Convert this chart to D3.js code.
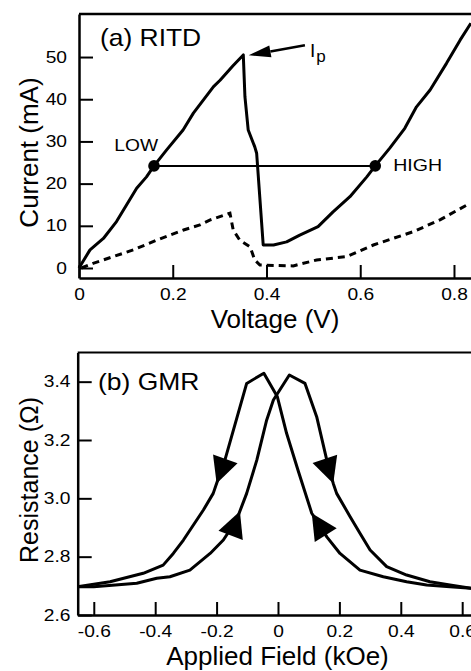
<!DOCTYPE html>
<html>
<head>
<meta charset="utf-8">
<script src="https://cdn.jsdelivr.net/npm/d3@7"></script>
<style>
  body { margin: 0; background: #fff; }
  svg { display: block; }
</style>
</head>
<body>
<svg id="chart"></svg>
<script>
// (a) RITD data - current vs voltage
var rtdV = [0, 0.0235, 0.052, 0.08, 0.123, 0.144, 0.16, 0.187, 0.222, 0.244, 0.287, 0.301, 0.329, 0.3505,
            0.354, 0.361, 0.375, 0.379, 0.393, 0.415, 0.443, 0.471, 0.51, 0.542, 0.578, 0.614, 0.632,
            0.663, 0.695, 0.72, 0.749, 0.784, 0.813, 0.836];
var rtdI = [0, 4.3, 7.0, 11.0, 18.9, 21.6, 24.2, 28.0, 32.7, 36.7, 43.0, 44.5, 48.0, 50.5,
            40.6, 32.7, 28.7, 27.2, 5.45, 5.45, 6.2, 7.8, 9.8, 13.3, 16.9, 21.6, 24.2,
            28.4, 33.1, 38.2, 42.2, 48.5, 54.0, 58.0];
var rtdDashV = [0.005, 0.03, 0.116, 0.166, 0.194, 0.223, 0.258, 0.28, 0.322, 0.329, 0.343, 0.365,
                0.375, 0.386, 0.457, 0.507, 0.571, 0.628, 0.713, 0.77, 0.827];
var rtdDashI = [0, 1.1, 4.3, 6.6, 7.8, 9.0, 10.2, 11.4, 13.0, 9.0, 6.6, 5.0,
                1.9, 0.7, 0.5, 1.9, 2.7, 5.45, 8.6, 11.4, 14.9];
var stateV = [0.16, 0.632];
var stateI = [24.2, 24.2];
var stateLabels = ["LOW", "HIGH"];
var peakArrowV = [0.362, 0.482];   // tip, tail
var peakArrowI = [50.4, 52.8];

var vTicks = [0, 0.2, 0.4, 0.6, 0.8];
var iTicks = [0, 10, 20, 30, 40, 50];

// (b) GMR data - resistance vs field, two sweep directions
var gmrFwdH = [-0.653, -0.60, -0.46, -0.395, -0.352, -0.287, -0.221, -0.178, -0.135, -0.102, -0.069,
               -0.037, -0.015, 0.037, 0.088, 0.126, 0.159, 0.180, 0.191, 0.235, 0.267, 0.3, 0.354,
               0.419, 0.495, 0.56, 0.629];
var gmrFwdR = [2.697, 2.697, 2.709, 2.726, 2.731, 2.754, 2.811, 2.857, 2.926, 3.017, 3.131,
               3.268, 3.337, 3.423, 3.394, 3.28, 3.131, 3.051, 3.017, 2.937, 2.88, 2.823, 2.766,
               2.737, 2.714, 2.703, 2.692];
var gmrRevH = [-0.653, -0.547, -0.439, -0.374, -0.341, -0.308, -0.243, -0.211, -0.2, -0.173, -0.102,
               -0.046, -0.002, 0.028, 0.065, 0.11, 0.159, 0.202, 0.267, 0.343, 0.419, 0.484, 0.56, 0.629];
var gmrRevR = [2.697, 2.714, 2.743, 2.771, 2.811, 2.857, 2.96, 3.017, 3.051, 3.131, 3.394,
               3.429, 3.348, 3.223, 3.097, 2.949, 2.868, 2.811, 2.754, 2.731, 2.714, 2.703, 2.697, 2.692];
// sweep direction arrows (tip position on a curve, direction along the array)
var arrowH = [-0.2, 0.18, -0.124, 0.11];
var arrowR = [3.051, 3.051, 2.956, 2.949];
var arrowCurve = ["rev", "fwd", "fwd", "rev"];
var arrowDir = [-1, 1, 1, -1];

var hTicks = [-0.6, -0.4, -0.2, 0, 0.2, 0.4, 0.6];
var rTicks = [2.6, 2.8, 3.0, 3.2, 3.4];

var FONT = "'Liberation Sans', Arial, Helvetica, sans-serif";
var svgWidth = 471, svgHeight = 671;

var svg = d3.select("#chart")
    .attr("width", svgWidth)
    .attr("height", svgHeight);

svg.append("rect")
    .attr("width", svgWidth)
    .attr("height", svgHeight)
    .attr("fill", "#fff");

function zip(xs, ys) {
    return xs.map(function(x, i) { return [x, ys[i]]; });
}

function fmtTick(d) {
    if (d === 0) return "0";
    return d3.format(".1f")(d).replace("\u2212", "-");
}

function styleAxis(g, fontSize, sx) {
    g.attr("font-family", FONT).attr("font-size", fontSize);
    g.select(".domain").attr("stroke", "#000").attr("stroke-width", 2.5);
    g.selectAll(".tick line").attr("stroke", "#000").attr("stroke-width", 2);
    g.selectAll(".tick text").attr("fill", "#000")
        .attr("transform", "scale(" + sx + ",1)");
}

// ---------- (a) RITD ----------
var xV = d3.scaleLinear().domain([0, 0.8363]).range([79, 471]);
var yI = d3.scaleLinear().domain([-2.37, 60.2]).range([278, 14]);

svg.append("line")   // top frame
    .attr("x1", 79).attr("x2", 471)
    .attr("y1", 14).attr("y2", 14)
    .attr("stroke", "#000").attr("stroke-width", 2.5);

svg.append("g")
    .attr("transform", "translate(0,278)")
    .call(d3.axisBottom(xV).tickValues(vTicks).tickSizeInner(-13).tickSizeOuter(0)
        .tickPadding(11).tickFormat(fmtTick))
    .call(styleAxis, 16, 1.2);

svg.append("g")
    .attr("transform", "translate(79,0)")
    .call(d3.axisLeft(yI).tickValues(iTicks).tickSizeInner(-14).tickSizeOuter(0)
        .tickPadding(10).tickFormat(d3.format("d")))
    .call(styleAxis, 16, 1.2);

var lineA = d3.line()
    .x(function(d) { return xV(d[0]); })
    .y(function(d) { return yI(d[1]); });

svg.append("path")
    .datum(zip(rtdDashV, rtdDashI))
    .attr("fill", "none")
    .attr("stroke", "#000")
    .attr("stroke-width", 3)
    .attr("stroke-dasharray", "7,5")
    .attr("d", lineA);

svg.append("path")
    .datum(zip(rtdV, rtdI))
    .attr("fill", "none")
    .attr("stroke", "#000")
    .attr("stroke-width", 3)
    .attr("stroke-linejoin", "round")
    .attr("d", lineA);

// LOW-HIGH load line
svg.append("line")
    .attr("x1", xV(stateV[0])).attr("x2", xV(stateV[1]))
    .attr("y1", yI(stateI[0])).attr("y2", yI(stateI[1]))
    .attr("stroke", "#000").attr("stroke-width", 2);

svg.selectAll(".state")
    .data(stateV)
    .enter()
    .append("circle")
    .attr("cx", function(d) { return xV(d); })
    .attr("cy", function(d, i) { return yI(stateI[i]); })
    .attr("r", 5.8)
    .attr("fill", "#000");

svg.append("text")
    .attr("transform", "translate(" + (xV(stateV[0]) + 4) + "," + (yI(stateI[0]) - 15) + ") scale(1.2,1)")
    .attr("text-anchor", "end")
    .attr("font-family", FONT).attr("font-size", 16)
    .text(stateLabels[0]);

svg.append("text")
    .attr("transform", "translate(" + (xV(stateV[1]) + 18) + "," + (yI(stateI[1]) + 5.5) + ") scale(1.15,1)")
    .attr("font-family", FONT).attr("font-size", 17)
    .text(stateLabels[1]);

// peak current arrow
var tipX = xV(peakArrowV[0]), tipY = yI(peakArrowI[0]);
var tailX = xV(peakArrowV[1]), tailY = yI(peakArrowI[1]);
var ang = Math.atan2(tailY - tipY, tailX - tipX);
var headLen = 22, headW = 6;
var bx = tipX + Math.cos(ang) * headLen, by = tipY + Math.sin(ang) * headLen;
svg.append("line")
    .attr("x1", bx).attr("y1", by)
    .attr("x2", tailX).attr("y2", tailY)
    .attr("stroke", "#000").attr("stroke-width", 2.5);
svg.append("path")
    .attr("d", "M" + tipX + "," + tipY +
        "L" + (bx - Math.sin(ang) * headW) + "," + (by + Math.cos(ang) * headW) +
        "L" + (bx + Math.sin(ang) * headW) + "," + (by - Math.cos(ang) * headW) + "Z")
    .attr("fill", "#000");

var ip = svg.append("text")
    .attr("x", tailX + 5).attr("y", tailY + 12)
    .attr("font-family", FONT).attr("font-size", 19);
ip.append("tspan").text("I");
ip.append("tspan").attr("dy", 5).attr("dx", 1).attr("font-size", 17).text("p");

svg.append("text")
    .attr("transform", "translate(100,46) scale(1.1,1)")
    .attr("font-family", FONT).attr("font-size", 24)
    .text("(a) RITD");

svg.append("text")
    .attr("x", 275).attr("y", 328)
    .attr("text-anchor", "middle")
    .attr("font-family", FONT).attr("font-size", 26)
    .text("Voltage (V)");

svg.append("text")
    .attr("transform", "translate(38,152.5) rotate(-90)")
    .attr("text-anchor", "middle")
    .attr("font-family", FONT).attr("font-size", 26)
    .text("Current (mA)");

// ---------- (b) GMR ----------
var xH = d3.scaleLinear().domain([-0.6524, 0.6287]).range([77.7, 471]);
var yR = d3.scaleLinear().domain([2.6, 3.5]).range([615, 352.5]);

svg.append("line")   // top frame
    .attr("x1", 77.7).attr("x2", 471)
    .attr("y1", 352.5).attr("y2", 352.5)
    .attr("stroke", "#000").attr("stroke-width", 2);

svg.append("g")
    .attr("transform", "translate(0,615)")
    .call(d3.axisBottom(xH).tickValues(hTicks).tickSizeInner(-13).tickSizeOuter(0)
        .tickPadding(10.6).tickFormat(fmtTick))
    .call(styleAxis, 16, 1.2);

svg.append("g")
    .attr("transform", "translate(77.7,0)")
    .call(d3.axisLeft(yR).tickValues(rTicks).tickSizeInner(-14).tickSizeOuter(0)
        .tickPadding(6).tickFormat(d3.format(".1f")))
    .call(styleAxis, 16, 1.2);

var lineB = d3.line()
    .x(function(d) { return xH(d[0]); })
    .y(function(d) { return yR(d[1]); });

var curves = { fwd: zip(gmrFwdH, gmrFwdR), rev: zip(gmrRevH, gmrRevR) };

svg.selectAll(".gmr")
    .data([curves.fwd, curves.rev])
    .enter()
    .append("path")
    .attr("fill", "none")
    .attr("stroke", "#000")
    .attr("stroke-width", 3)
    .attr("stroke-linejoin", "round")
    .attr("d", lineB);

// filled arrowheads showing sweep direction
function sweepArrow(i) {
    var pts = curves[arrowCurve[i]];
    var k = 0;
    for (var j = 0; j < pts.length - 1; j++) {
        if (pts[j][0] <= arrowH[i] && arrowH[i] < pts[j + 1][0]) { k = j; break; }
    }
    var dx = (xH(pts[k + 1][0]) - xH(pts[k][0])) * arrowDir[i];
    var dy = (yR(pts[k + 1][1]) - yR(pts[k][1])) * arrowDir[i];
    var n = Math.sqrt(dx * dx + dy * dy);
    dx /= n; dy /= n;
    var tx = xH(arrowH[i]), ty = yR(arrowR[i]);
    var len = 26, hw = 13;
    var cx = tx - dx * len, cy = ty - dy * len;
    return "M" + tx + "," + ty +
        "L" + (cx - dy * hw) + "," + (cy + dx * hw) +
        "L" + (cx + dy * hw) + "," + (cy - dx * hw) + "Z";
}

svg.selectAll(".sweep")
    .data(arrowH)
    .enter()
    .append("path")
    .attr("d", function(d, i) { return sweepArrow(i); })
    .attr("fill", "#000");

svg.append("text")
    .attr("transform", "translate(98,390) scale(1.15,1)")
    .attr("font-family", FONT).attr("font-size", 23)
    .text("(b) GMR");

svg.append("text")
    .attr("x", 277.5).attr("y", 665)
    .attr("text-anchor", "middle")
    .attr("font-family", FONT).attr("font-size", 26)
    .text("Applied Field (kOe)");

svg.append("text")
    .attr("transform", "translate(38,480) rotate(-90)")
    .attr("text-anchor", "middle")
    .attr("font-family", FONT).attr("font-size", 25)
    .text("Resistance (\u03A9)");
</script>
</body>
</html>
